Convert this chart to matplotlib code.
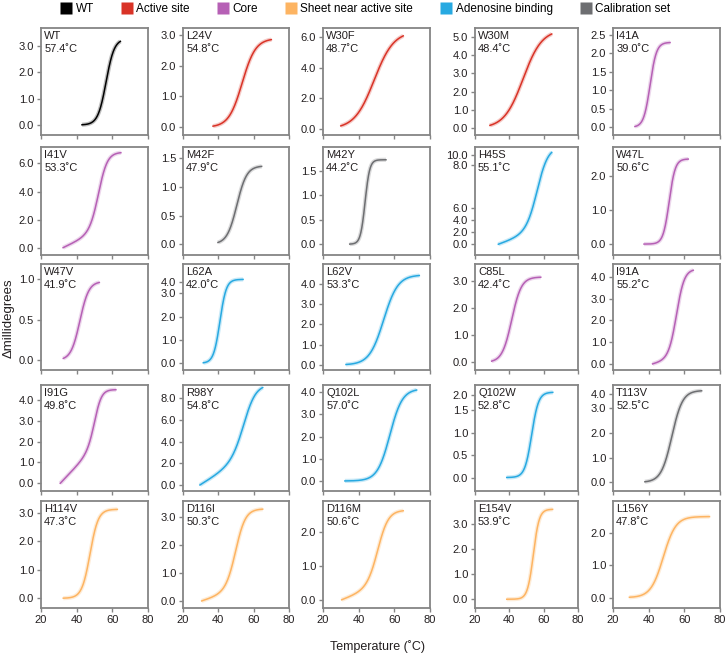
import numpy as np
import matplotlib
matplotlib.use("Agg")
import matplotlib.pyplot as plt
from matplotlib.lines import Line2D

plt.rcParams['font.family'] = ['Liberation Sans', 'DejaVu Sans']

# group colours
group_colors = {
    'WT': '#000000',
    'Active site': '#d93327',
    'Core': '#b660b5',
    'Sheet near active site': '#fdb462',
    'Adenosine binding': '#27a9e1',
    'Calibration set': '#6d6e71',
}

names = ['WT', 'L24V', 'W30F', 'W30M', 'I41A',
         'I41V', 'M42F', 'M42Y', 'H45S', 'W47L',
         'W47V', 'L62A', 'L62V', 'C85L', 'I91A',
         'I91G', 'R98Y', 'Q102L', 'Q102W', 'T113V',
         'H114V', 'D116I', 'D116M', 'E154V', 'L156Y']
tm_labels = ['57.4', '54.8', '48.7', '48.4', '39.0',
             '53.3', '47.9', '44.2', '55.1', '50.6',
             '41.9', '42.0', '53.3', '42.4', '55.2',
             '49.8', '54.8', '57.0', '52.8', '52.5',
             '47.3', '50.3', '50.6', '53.9', '47.8']
groups = ['WT', 'Active site', 'Active site', 'Active site', 'Core',
          'Core', 'Calibration set', 'Calibration set', 'Adenosine binding', 'Core',
          'Core', 'Adenosine binding', 'Adenosine binding', 'Core', 'Core',
          'Core', 'Adenosine binding', 'Adenosine binding', 'Adenosine binding', 'Calibration set',
          'Sheet near active site', 'Sheet near active site', 'Sheet near active site',
          'Sheet near active site', 'Sheet near active site']

# fitted two-state melt parameters
t_start = [43.0, 37.0, 30.0, 28.7, 32.3,
           32.4, 39.8, 35.0, 33.6, 37.4,
           32.5, 31.5, 32.9, 29.7, 42.2,
           30.8, 29.6, 32.3, 38.5, 37.9,
           32.5, 30.6, 30.5, 38.5, 29.2]
t_end = [64.5, 70.0, 65.0, 64.7, 52.0,
         64.8, 64.5, 55.3, 64.7, 62.2,
         52.7, 54.0, 74.0, 58.3, 65.0,
         62.0, 65.1, 72.5, 65.3, 69.7,
         62.8, 65.1, 65.0, 65.2, 74.1]
t_mid = [56.5, 53.5, 48.7, 48.0, 40.8,
         52.5, 50.5, 43.6, 56.5, 51.5,
         41.8, 40.9, 54.0, 41.4, 55.7,
         50.5, 55.0, 57.5, 53.0, 53.0,
         47.5, 50.0, 51.0, 54.0, 48.2]
t_width = [2.3, 3.8, 5.5, 5.5, 1.8,
           2.5, 2.8, 1.3, 3.2, 1.7,
           2.5, 1.8, 4.0, 2.8, 2.2,
           2.0, 3.5, 3.5, 2.0, 3.0,
           2.3, 2.8, 3.0, 1.7, 3.5]
pre_slope = [0.0, 0.0, 0.0, 0.0, 0.0,
             0.06, 0.0, 0.0, 0.1, 0.0,
             0.0, 0.0, 0.0, 0.0, 0.02,
             0.09, 0.1, 0.0, 0.0, 0.0,
             0.0, 0.02, 0.02, 0.0, 0.0]
plateau = [3.28, 2.88, 6.4, 5.4, 2.3,
           6.8, 1.37, 1.72, 16.0, 2.5,
           0.97, 3.6, 4.45, 3.15, 4.35,
           4.5, 9.3, 4.15, 1.9, 3.72,
           3.12, 3.3, 2.65, 3.6, 2.5]

y_lims = [(-0.38, 3.69), (-0.25, 3.22), (-0.39, 6.6), (-0.37, 5.48), (-0.21, 2.69),
          (-0.52, 7.17), (-0.19, 1.70), (-0.22, 1.98), (-1.75, 15.95), (-0.32, 2.85),
          (-0.12, 1.185), (-0.29, 4.26), (-0.25, 4.99), (-0.28, 3.63), (-0.27, 4.58),
          (-0.37, 4.72), (-0.55, 9.23), (-0.45, 4.32), (-0.3, 2.06), (-0.35, 3.94),
          (-0.34, 3.41), (-0.25, 3.58), (-0.24, 2.92), (-0.35, 3.93), (-0.32, 2.98)]
# tick positions as they sit on each axis, and the text printed at them
y_ticks = [[0, 1, 2, 3], [0, 1, 2, 3], [0, 2, 4, 6], [0, 1, 2, 3, 4, 5], [0, 0.5, 1, 1.5, 2, 2.5],
           [0, 2, 4, 6], [0, 0.5, 1, 1.5], [0, 0.5, 1, 1.5], [0, 2, 4, 6, 13.0, 14.6], [0, 1, 2],
           [0, 0.5, 1], [0, 1, 2, 3, 3.5], [0, 1, 2, 3, 4], [0, 1, 2, 3], [0, 1, 2, 3, 4],
           [0, 1, 2, 3, 4], [0, 2, 4, 6, 8], [0, 1, 2, 3, 4], [0, 0.5, 1, 1.5, 1.84], [0, 1, 2, 3, 3.57],
           [0, 1, 2, 3], [0, 1, 2, 3], [0, 1, 2], [0, 1, 2, 3], [0, 1, 2]]
y_tick_text = [['0.0', '1.0', '2.0', '3.0'], ['0.0', '1.0', '2.0', '3.0'],
               ['0.0', '2.0', '4.0', '6.0'], ['0.0', '1.0', '2.0', '3.0', '4.0', '5.0'],
               ['0.0', '0.5', '1.0', '1.5', '2.0', '2.5'],
               ['0.0', '2.0', '4.0', '6.0'], ['0.0', '0.5', '1.0', '1.5'],
               ['0.0', '0.5', '1.0', '1.5'], ['0.0', '2.0', '4.0', '6.0', '8.0', '10.0'],
               ['0.0', '1.0', '2.0'],
               ['0.0', '0.5', '1.0'], ['0.0', '1.0', '2.0', '3.0', '4.0'],
               ['0.0', '1.0', '2.0', '3.0', '4.0'], ['0.0', '1.0', '2.0', '3.0'],
               ['0.0', '1.0', '2.0', '3.0', '4.0'],
               ['0.0', '1.0', '2.0', '3.0', '4.0'], ['0.0', '2.0', '4.0', '6.0', '8.0'],
               ['0.0', '1.0', '2.0', '3.0', '4.0'], ['0.0', '0.5', '1.0', '1.5', '2.0'],
               ['0.0', '1.0', '2.0', '3.0', '4.0'],
               ['0.0', '1.0', '2.0', '3.0'], ['0.0', '1.0', '2.0', '3.0'],
               ['0.0', '1.0', '2.0'], ['0.0', '1.0', '2.0', '3.0'], ['0.0', '1.0', '2.0']]

# panel layout in pixels
W, H = 726, 656
col_left = [41, 183, 323, 475, 613]
col_width = [107, 106, 107, 103, 107]
row_span = [(28, 135), (147, 255), (264, 370), (385, 491), (501, 608)]

fig = plt.figure(figsize=(W / 100, H / 100), dpi=100)
spine_c = '#858585'
text_c = '#231f20'

for i, name in enumerate(names):
    r, c = divmod(i, 5)
    top, bot = row_span[r]
    ax = fig.add_axes([col_left[c] / W, 1 - bot / H, col_width[c] / W, (bot - top) / H])
    col = group_colors[groups[i]]

    T = np.linspace(t_start[i], t_end[i], 200)
    f = 1.0 / (1.0 + np.exp(-(T - t_mid[i]) / t_width[i]))
    native = pre_slope[i] * (T - t_start[i])
    y = native * (1 - f) + plateau[i] * f

    ax.plot(T, y, color=col, lw=3.0, alpha=0.25, solid_capstyle='butt')
    ax.plot(T, y, color=col, lw=1.1)

    ax.set_xlim(20, 80)
    ax.set_ylim(*y_lims[i])
    ax.set_xticks([20, 40, 60, 80])
    ax.set_yticks(y_ticks[i])
    ax.set_yticklabels(y_tick_text[i])
    if r < 4:
        ax.set_xticklabels([])
    for s in ax.spines.values():
        s.set_color(spine_c)
        s.set_linewidth(1.3)
    ax.tick_params(direction='out', length=3, width=1, color=spine_c,
                   labelsize=8, labelcolor=text_c, pad=2)
    ax.text(0.03, 0.97, name + '\n' + tm_labels[i] + '˚C', transform=ax.transAxes,
            ha='left', va='top', fontsize=8, color=text_c, linespacing=1.3)

fig.text(9 / W, 1 - 318 / H, 'Δmillidegrees', rotation=90, ha='center', va='center',
         fontsize=9.5, color=text_c)
fig.text(377 / W, 1 - 647 / H, 'Temperature (˚C)', ha='center', va='center',
         fontsize=9, color=text_c)

handles = [Line2D([], [], marker='s', linestyle='none', markersize=8.5,
                  markerfacecolor=group_colors[g], markeredgecolor='none', label=g)
           for g in group_colors]
fig.legend(handles=handles, loc='upper center', bbox_to_anchor=(0.503, 1.012), ncol=6,
           frameon=False, fontsize=8.5, handletextpad=0.3, columnspacing=2.3,
           handlelength=1.0)

fig.savefig('out.png', dpi=100)
